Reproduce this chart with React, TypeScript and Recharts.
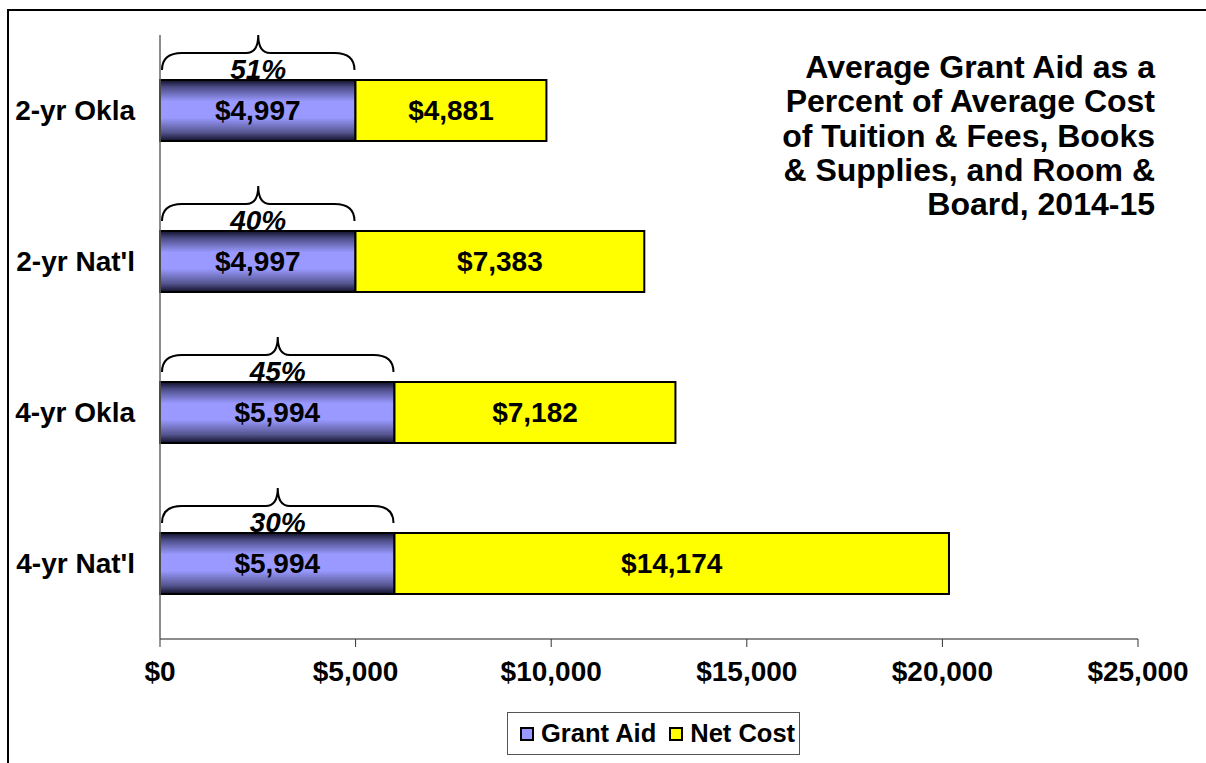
import React from 'react';
import { BarChart, Bar, XAxis, YAxis, Legend, LabelList } from 'recharts';

// values
const categories = ["2-yr Okla", "2-yr Nat'l", "4-yr Okla", "4-yr Nat'l"];
const grantAid = [4997, 4997, 5994, 5994];
const netCost = [4881, 7383, 7182, 14174];
const grantShare = ['51%', '40%', '45%', '30%'];
const xTicks = [0, 5000, 10000, 15000, 20000, 25000];
const titleLines = [
    'Average Grant Aid as a',
    'Percent of Average Cost',
    'of Tuition & Fees, Books',
    '& Supplies, and Room &',
    'Board, 2014-15',
];

const GRANT_COLOR = '#9999ff';
const NET_COLOR = '#ffff00';
const FONT = '"Liberation Sans", Arial, sans-serif';

const data = categories.map((name, i) => ({
    name,
    grant: grantAid[i],
    net: netCost[i],
    share: grantShare[i],
}));

const money = (v: number) => '$' + String(v).replace(/\B(?=(\d{3})+(?!\d))/g, ',');

// curly brace over the grant bar with the share printed beneath it
const Brace = (props: any) => {
    const { x, y, width, value } = props;
    const x0 = x + 2;
    const x1 = x + width - 1;
    const xm = (x0 + x1) / 2;
    const yEnd = y - 10;
    const yH = y - 27;
    const yPeak = y - 45;
    const r = 20;
    const rm = 12;
    const d = `M${x0},${yEnd} Q${x0},${yH} ${x0 + r},${yH} L${xm - rm},${yH} Q${xm},${yH} ${xm},${yPeak} ` +
        `Q${xm},${yH} ${xm + rm},${yH} L${x1 - r},${yH} Q${x1},${yH} ${x1},${yEnd}`;
    return (
        <g>
            <path d={d} fill="none" stroke="#000" strokeWidth={2} />
            <text x={xm} y={y - 1} textAnchor="middle" fontSize={28} fontWeight="bold" fontStyle="italic" fill="#000">
                {value}
            </text>
        </g>
    );
};

const LegendBox = () => (
    <div
        style={{
            width: 293,
            height: 43,
            border: '1px solid #555',
            background: '#fff',
            display: 'flex',
            alignItems: 'center',
            fontFamily: FONT,
            fontWeight: 'bold',
            fontSize: 25.5,
            color: '#000',
            boxSizing: 'border-box',
        }}
    >
        <span style={{ display: 'inline-block', width: 10, height: 10, border: '2px solid #000', background: GRANT_COLOR, marginLeft: 12, marginRight: 7 }} />
        <span>Grant Aid</span>
        <span style={{ display: 'inline-block', width: 10, height: 10, border: '2px solid #000', background: NET_COLOR, marginLeft: 13, marginRight: 7 }} />
        <span>Net Cost</span>
    </div>
);

export default function App() {
    const tickStyle = { fill: '#000', fontSize: 28, fontWeight: 'bold', fontFamily: FONT };
    return (
        <div style={{ position: 'absolute', left: 0, top: 0, width: 1206, height: 763, overflow: 'hidden', background: '#fff', fontFamily: FONT }}>
            <div style={{ position: 'absolute', left: 7, top: 9, width: 1300, height: 900, border: '2px solid #000' }} />
            <BarChart
                width={1206}
                height={763}
                data={data}
                layout="vertical"
                margin={{ top: 35, right: 68, bottom: 84, left: 10 }}
                barSize={61}
            >
                <defs>
                    <linearGradient id="grantGrad" x1="0" y1="0" x2="0" y2="1">
                        <stop offset="0%" stopColor="#10102a" />
                        <stop offset="12%" stopColor="#4d4d88" />
                        <stop offset="35%" stopColor={GRANT_COLOR} />
                        <stop offset="62%" stopColor={GRANT_COLOR} />
                        <stop offset="86%" stopColor="#55558f" />
                        <stop offset="100%" stopColor="#10102a" />
                    </linearGradient>
                </defs>
                <XAxis
                    type="number"
                    domain={[0, 25000]}
                    ticks={xTicks}
                    tickFormatter={money}
                    height={40}
                    axisLine={{ stroke: '#666', strokeWidth: 1.5 }}
                    tickLine={{ stroke: '#333' }}
                    tickSize={8}
                    tickMargin={14}
                    tick={tickStyle}
                    interval={0}
                />
                <YAxis
                    type="category"
                    dataKey="name"
                    width={150}
                    axisLine={{ stroke: '#666', strokeWidth: 1.5 }}
                    tickLine={false}
                    tickSize={0}
                    tickMargin={25}
                    tick={tickStyle}
                />
                <Legend
                    layout="horizontal"
                    verticalAlign="middle"
                    align="center"
                    wrapperStyle={{ position: 'absolute', left: 507, top: 712, width: 293, height: 43 }}
                    content={<LegendBox />}
                />
                <Bar dataKey="grant" stackId="a" fill="url(#grantGrad)" stroke="#000" strokeWidth={2} isAnimationActive={false}>
                    <LabelList dataKey="share" content={<Brace />} />
                    <LabelList dataKey="grant" position="center" formatter={(v: any) => money(Number(v))} fill="#000" fontSize={28} fontWeight="bold" />
                </Bar>
                <Bar dataKey="net" stackId="a" fill={NET_COLOR} stroke="#000" strokeWidth={2} isAnimationActive={false}>
                    <LabelList dataKey="net" position="center" formatter={(v: any) => money(Number(v))} fill="#000" fontSize={28} fontWeight="bold" />
                </Bar>
            </BarChart>
            <div
                style={{
                    position: 'absolute',
                    right: 51,
                    top: 50,
                    textAlign: 'right',
                    fontSize: 32,
                    lineHeight: '34.3px',
                    fontWeight: 'bold',
                    color: '#000',
                    whiteSpace: 'nowrap',
                }}
            >
                {titleLines.map((line) => (
                    <div key={line}>{line}</div>
                ))}
            </div>
        </div>
    );
}
